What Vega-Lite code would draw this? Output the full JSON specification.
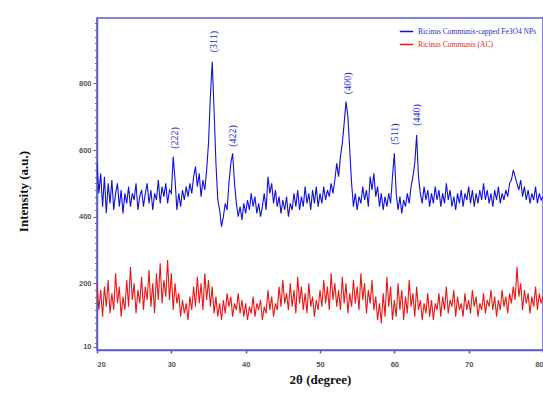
{
  "$schema": "https://vega.github.io/schema/vega-lite/v6.json",
  "autosize": {"type": "none"},
  "padding": {"left": 97, "top": 18, "right": 0, "bottom": 66},
  "width": 446,
  "height": 332,
  "background": "white",
  "config": {
    "view": {"stroke": "#5b5bc8", "strokeWidth": 1.5},
    "axis": {"labelFont": "Liberation Sans", "labelFontWeight": "bold", "labelColor": "#555", "labelFontSize": 7.5, "domainColor": "#5b5bc8", "domainWidth": 1.5, "tickColor": "#5b5bc8", "grid": false, "labelOverlap": false, "titleFont": "Liberation Serif", "titleFontWeight": "bold", "titleFontSize": 13, "titleColor": "#111"}
  },
  "datasets": {
    "xrd": [
      {"t":20,"b":560,"r":200},{"t":20.25,"b":470,"r":120},{"t":20.5,"b":530,"r":180},{"t":20.75,"b":430,"r":100},
      {"t":21,"b":520,"r":190},{"t":21.25,"b":410,"r":130},{"t":21.5,"b":500,"r":210},{"t":21.75,"b":440,"r":110},
      {"t":22,"b":510,"r":170},{"t":22.25,"b":420,"r":120},{"t":22.5,"b":470,"r":230},{"t":22.75,"b":500,"r":140},
      {"t":23,"b":430,"r":190},{"t":23.25,"b":480,"r":100},{"t":23.5,"b":410,"r":160},{"t":23.75,"b":470,"r":120},
      {"t":24,"b":440,"r":210},{"t":24.25,"b":490,"r":130},{"t":24.5,"b":430,"r":250},{"t":24.75,"b":470,"r":150},
      {"t":25,"b":450,"r":200},{"t":25.25,"b":500,"r":110},{"t":25.5,"b":420,"r":180},{"t":25.75,"b":460,"r":140},
      {"t":26,"b":480,"r":220},{"t":26.25,"b":430,"r":120},{"t":26.5,"b":470,"r":190},{"t":26.75,"b":500,"r":150},
      {"t":27,"b":440,"r":240},{"t":27.25,"b":480,"r":130},{"t":27.5,"b":420,"r":200},{"t":27.75,"b":470,"r":110},
      {"t":28,"b":450,"r":230},{"t":28.25,"b":510,"r":150},{"t":28.5,"b":440,"r":260},{"t":28.75,"b":490,"r":140},
      {"t":29,"b":460,"r":210},{"t":29.25,"b":500,"r":160},{"t":29.5,"b":440,"r":270},{"t":29.75,"b":480,"r":150},
      {"t":30,"b":470,"r":230},{"t":30.25,"b":580,"r":120},{"t":30.5,"b":510,"r":200},{"t":30.75,"b":420,"r":140},
      {"t":31,"b":470,"r":170},{"t":31.25,"b":430,"r":100},{"t":31.5,"b":480,"r":150},{"t":31.75,"b":450,"r":110},
      {"t":32,"b":490,"r":140},{"t":32.25,"b":460,"r":90},{"t":32.5,"b":500,"r":160},{"t":32.75,"b":470,"r":120},
      {"t":33,"b":520,"r":190},{"t":33.25,"b":550,"r":130},{"t":33.5,"b":490,"r":220},{"t":33.75,"b":530,"r":140},
      {"t":34,"b":460,"r":200},{"t":34.25,"b":510,"r":120},{"t":34.5,"b":480,"r":230},{"t":34.75,"b":540,"r":150},
      {"t":35,"b":620,"r":210},{"t":35.25,"b":760,"r":130},{"t":35.5,"b":865,"r":190},{"t":35.75,"b":720,"r":110},
      {"t":36,"b":560,"r":160},{"t":36.25,"b":450,"r":100},{"t":36.5,"b":420,"r":140},{"t":36.75,"b":370,"r":90},
      {"t":37,"b":400,"r":150},{"t":37.25,"b":440,"r":110},{"t":37.5,"b":420,"r":170},{"t":37.75,"b":500,"r":130},
      {"t":38,"b":560,"r":160},{"t":38.25,"b":590,"r":100},{"t":38.5,"b":500,"r":140},{"t":38.75,"b":440,"r":120},
      {"t":39,"b":400,"r":170},{"t":39.25,"b":430,"r":110},{"t":39.5,"b":390,"r":150},{"t":39.75,"b":440,"r":100},
      {"t":40,"b":410,"r":140},{"t":40.25,"b":450,"r":90},{"t":40.5,"b":420,"r":130},{"t":40.75,"b":470,"r":110},
      {"t":41,"b":430,"r":160},{"t":41.25,"b":460,"r":100},{"t":41.5,"b":410,"r":140},{"t":41.75,"b":440,"r":120},
      {"t":42,"b":400,"r":150},{"t":42.25,"b":430,"r":90},{"t":42.5,"b":470,"r":130},{"t":42.75,"b":420,"r":110},
      {"t":43,"b":520,"r":180},{"t":43.25,"b":470,"r":120},{"t":43.5,"b":500,"r":160},{"t":43.75,"b":440,"r":100},
      {"t":44,"b":480,"r":140},{"t":44.25,"b":430,"r":120},{"t":44.5,"b":460,"r":190},{"t":44.75,"b":410,"r":130},
      {"t":45,"b":450,"r":210},{"t":45.25,"b":420,"r":140},{"t":45.5,"b":460,"r":170},{"t":45.75,"b":400,"r":120},
      {"t":46,"b":440,"r":200},{"t":46.25,"b":420,"r":130},{"t":46.5,"b":470,"r":180},{"t":46.75,"b":430,"r":110},
      {"t":47,"b":480,"r":220},{"t":47.25,"b":420,"r":140},{"t":47.5,"b":460,"r":190},{"t":47.75,"b":430,"r":120},
      {"t":48,"b":490,"r":170},{"t":48.25,"b":440,"r":110},{"t":48.5,"b":470,"r":200},{"t":48.75,"b":420,"r":130},
      {"t":49,"b":480,"r":160},{"t":49.25,"b":440,"r":100},{"t":49.5,"b":490,"r":150},{"t":49.75,"b":430,"r":120},
      {"t":50,"b":470,"r":180},{"t":50.25,"b":440,"r":130},{"t":50.5,"b":490,"r":210},{"t":50.75,"b":450,"r":140},
      {"t":51,"b":480,"r":190},{"t":51.25,"b":460,"r":120},{"t":51.5,"b":500,"r":230},{"t":51.75,"b":470,"r":150},
      {"t":52,"b":510,"r":200},{"t":52.25,"b":560,"r":130},{"t":52.5,"b":520,"r":180},{"t":52.75,"b":580,"r":120},
      {"t":53,"b":620,"r":220},{"t":53.25,"b":680,"r":140},{"t":53.5,"b":745,"r":200},{"t":53.75,"b":700,"r":110},
      {"t":54,"b":600,"r":170},{"t":54.25,"b":500,"r":130},{"t":54.5,"b":430,"r":210},{"t":54.75,"b":470,"r":140},
      {"t":55,"b":420,"r":190},{"t":55.25,"b":460,"r":120},{"t":55.5,"b":440,"r":230},{"t":55.75,"b":490,"r":150},
      {"t":56,"b":450,"r":200},{"t":56.25,"b":480,"r":110},{"t":56.5,"b":430,"r":180},{"t":56.75,"b":520,"r":140},
      {"t":57,"b":480,"r":210},{"t":57.25,"b":530,"r":120},{"t":57.5,"b":460,"r":160},{"t":57.75,"b":490,"r":90},
      {"t":58,"b":430,"r":140},{"t":58.25,"b":470,"r":80},{"t":58.5,"b":420,"r":170},{"t":58.75,"b":460,"r":100},
      {"t":59,"b":430,"r":220},{"t":59.25,"b":470,"r":130},{"t":59.5,"b":440,"r":190},{"t":59.75,"b":520,"r":90},
      {"t":60,"b":590,"r":150},{"t":60.25,"b":470,"r":100},{"t":60.5,"b":420,"r":200},{"t":60.75,"b":460,"r":120},
      {"t":61,"b":410,"r":180},{"t":61.25,"b":450,"r":90},{"t":61.5,"b":430,"r":160},{"t":61.75,"b":470,"r":110},
      {"t":62,"b":440,"r":210},{"t":62.25,"b":490,"r":130},{"t":62.5,"b":520,"r":170},{"t":62.75,"b":560,"r":100},
      {"t":63,"b":645,"r":190},{"t":63.25,"b":520,"r":120},{"t":63.5,"b":470,"r":150},{"t":63.75,"b":440,"r":90},
      {"t":64,"b":490,"r":140},{"t":64.25,"b":450,"r":110},{"t":64.5,"b":480,"r":170},{"t":64.75,"b":430,"r":100},
      {"t":65,"b":470,"r":150},{"t":65.25,"b":440,"r":90},{"t":65.5,"b":490,"r":140},{"t":65.75,"b":450,"r":120},
      {"t":66,"b":480,"r":170},{"t":66.25,"b":430,"r":100},{"t":66.5,"b":470,"r":160},{"t":66.75,"b":440,"r":120},
      {"t":67,"b":500,"r":190},{"t":67.25,"b":450,"r":110},{"t":67.5,"b":480,"r":150},{"t":67.75,"b":430,"r":130},
      {"t":68,"b":460,"r":180},{"t":68.25,"b":420,"r":100},{"t":68.5,"b":470,"r":160},{"t":68.75,"b":440,"r":120},
      {"t":69,"b":480,"r":140},{"t":69.25,"b":430,"r":100},{"t":69.5,"b":470,"r":170},{"t":69.75,"b":450,"r":120},
      {"t":70,"b":490,"r":150},{"t":70.25,"b":440,"r":110},{"t":70.5,"b":480,"r":180},{"t":70.75,"b":430,"r":130},
      {"t":71,"b":470,"r":160},{"t":71.25,"b":440,"r":100},{"t":71.5,"b":480,"r":140},{"t":71.75,"b":450,"r":120},
      {"t":72,"b":500,"r":170},{"t":72.25,"b":450,"r":110},{"t":72.5,"b":480,"r":150},{"t":72.75,"b":440,"r":130},
      {"t":73,"b":470,"r":180},{"t":73.25,"b":430,"r":120},{"t":73.5,"b":480,"r":160},{"t":73.75,"b":450,"r":100},
      {"t":74,"b":490,"r":150},{"t":74.25,"b":440,"r":120},{"t":74.5,"b":470,"r":180},{"t":74.75,"b":450,"r":130},
      {"t":75,"b":480,"r":160},{"t":75.25,"b":460,"r":110},{"t":75.5,"b":500,"r":170},{"t":75.75,"b":510,"r":140},
      {"t":76,"b":540,"r":190},{"t":76.25,"b":520,"r":150},{"t":76.5,"b":500,"r":250},{"t":76.75,"b":480,"r":160},
      {"t":77,"b":510,"r":200},{"t":77.25,"b":460,"r":120},{"t":77.5,"b":490,"r":180},{"t":77.75,"b":450,"r":140},
      {"t":78,"b":480,"r":170},{"t":78.25,"b":440,"r":110},{"t":78.5,"b":470,"r":160},{"t":78.75,"b":450,"r":130},
      {"t":79,"b":490,"r":190},{"t":79.25,"b":440,"r":120},{"t":79.5,"b":470,"r":170},{"t":79.75,"b":450,"r":140},
      {"t":80,"b":460,"r":160}
    ],
    "peaks": [
      {"t":30.5,"v":636,"lab":"(222)"},
      {"t":35.7,"v":925,"lab":"(311)"},
      {"t":38.3,"v":642,"lab":"(422)"},
      {"t":53.7,"v":800,"lab":"(400)"},
      {"t":60.1,"v":648,"lab":"(511)"},
      {"t":63.0,"v":705,"lab":"(440)"}
    ]
  },
  "layer": [
    {
      "data": {"name": "xrd"},
      "transform": [{"fold": ["b", "r"], "as": ["series", "v"]}],
      "mark": {"type": "line", "strokeWidth": 1.1, "clip": true},
      "encoding": {
        "x": {"field": "t", "type": "quantitative", "scale": {"domain": [20, 80], "nice": false},
          "axis": {"values": [20, 30, 40, 50, 60, 70, 80], "labelOverlap": false, "tickSize": 3, "tickWidth": 1.5, "labelPadding": 7, "title": "2θ (degree)", "titleY": 29, "titleBaseline": "middle"}},
        "y": {"field": "v", "type": "quantitative", "scale": {"domain": [0, 996], "nice": false, "zero": false},
          "axis": {"values": [10, 20, 40, 60, 80, 100, 120, 140, 160, 180, 200, 220, 240, 260, 280, 300, 320, 340, 360, 380, 400, 420, 440, 460, 480, 500, 520, 540, 560, 580, 600, 620, 640, 660, 680, 700, 720, 740, 760, 780, 800, 820, 840, 860, 880, 900, 920, 940, 960, 980],
            "tickCount": 200,
            "labelOverlap": false,
            "labelExpr": "indexof([10,200,400,600,800], datum.value) >= 0 ? datum.label : ''",
            "tickSize": {"condition": {"test": "indexof([10,200,400,600,800], datum.value) >= 0", "value": 4}, "value": 2.5},
            "tickColor": "#666",
            "labelPadding": 2,
            "title": "Intensity (a.u.)", "titleX": -74, "titleY": 173, "titleAngle": 270, "titleAlign": "center", "titleBaseline": "middle"}},
        "color": {"field": "series", "type": "nominal",
          "scale": {"domain": ["b", "r"], "range": ["#1010e0", "#ee1515"]},
          "legend": {"orient": "top-right", "offset": 6, "title": null,
            "labelExpr": "datum.label == 'b' ? 'Ricinus Communis-capped Fe3O4 NPs' : 'Ricinus Communis (AC)'",
            "labelFont": "Liberation Serif", "labelFontSize": 7.5, "symbolType": "stroke", "symbolStrokeWidth": 1.5, "symbolSize": 180, "rowPadding": 2,
            "encode": {"labels": {"update": {"fill": {"signal": "datum.label == 'b' ? '#2a2ad0' : '#e02020'"}}}}}}
      }
    },
    {
      "data": {"name": "peaks"},
      "mark": {"type": "text", "angle": 270, "align": "center", "baseline": "middle", "font": "Liberation Serif", "fontSize": 10, "color": "#2a2ad0"},
      "encoding": {
        "x": {"field": "t", "type": "quantitative"},
        "y": {"field": "v", "type": "quantitative"},
        "text": {"field": "lab"}
      }
    }
  ]
}
